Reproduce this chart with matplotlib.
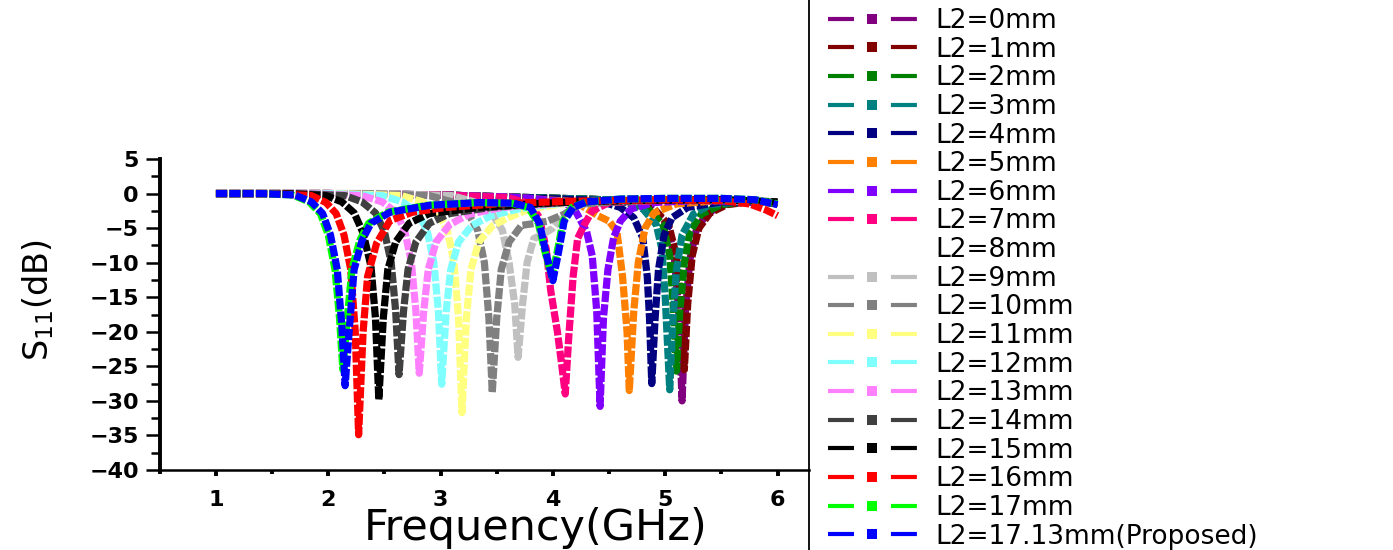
import matplotlib
matplotlib.use("Agg")
import matplotlib.pyplot as plt
from matplotlib.lines import Line2D

plt.rcParams['font.family'] = ['DejaVu Sans']
plt.rcParams['mathtext.default'] = 'regular'
plt.rcParams['lines.scale_dashes'] = False

# S11 traces (frequency in GHz, S11 in dB)
freq_0mm = [1.0, 2.0, 3.0, 3.6, 4.3, 4.6, 4.88, 5.02, 5.08, 5.12, 5.15, 5.18, 5.22, 5.28, 5.38, 5.52, 5.8, 6.0]
s11_0mm = [0, 0, -0.2, -0.5, -0.8, -1.0, -2.2, -4.5, -9, -17, -30, -17, -9.5, -5, -2.8, -1.6, -1.1, -1.4]
freq_1mm = [1.0, 2.0, 3.0, 3.6, 4.3, 4.6, 4.9, 5.03, 5.1, 5.14, 5.17, 5.2, 5.24, 5.3, 5.4, 5.55, 5.8, 6.0]
s11_1mm = [0, 0, -0.2, -0.5, -0.8, -1.0, -2.2, -4.5, -9, -16, -25.5, -16, -9, -5, -2.8, -1.6, -1.1, -1.5]
freq_2mm = [1.0, 2.0, 3.0, 3.6, 4.3, 4.6, 4.85, 4.98, 5.04, 5.07, 5.1, 5.13, 5.17, 5.22, 5.32, 5.5, 5.75, 6.0]
s11_2mm = [0, 0, -0.2, -0.5, -0.8, -1.0, -2.2, -4.5, -9, -16, -25.7, -17, -10, -5.5, -3, -1.6, -1.1, -1.4]
freq_3mm = [1.0, 2.0, 3.0, 3.6, 4.3, 4.6, 4.8, 4.92, 4.97, 5.0, 5.04, 5.07, 5.1, 5.15, 5.25, 5.4, 5.7, 6.0]
s11_3mm = [0, 0, -0.2, -0.5, -0.8, -1.0, -2.2, -4.5, -8, -15, -28.4, -18, -11, -6, -3, -1.6, -1.1, -1.4]
freq_4mm = [1.0, 2.0, 3.0, 3.6, 4.4, 4.6, 4.72, 4.8, 4.84, 4.86, 4.88, 4.91, 4.94, 4.99, 5.06, 5.2, 5.5, 6.0]
s11_4mm = [0, 0, -0.2, -0.5, -1.0, -2.0, -3.5, -6.4, -12, -18, -27.5, -18, -11, -6, -3.5, -2.0, -1.2, -1.3]
freq_5mm = [1.0, 2.0, 3.0, 3.6, 4.2, 4.3, 4.4, 4.5, 4.57, 4.62, 4.66, 4.68, 4.72, 4.76, 4.82, 4.9, 5.1, 5.5, 6.0]
s11_5mm = [0, 0, -0.2, -0.5, -1.2, -2.2, -3.2, -4.0, -5.5, -12, -20, -28.5, -17, -10, -5, -2.8, -1.5, -1.0, -1.3]
freq_6mm = [1.0, 2.0, 3.0, 3.6, 3.8, 4.1, 4.2, 4.3, 4.35, 4.39, 4.42, 4.45, 4.49, 4.54, 4.6, 4.7, 4.9, 5.3, 6.0]
s11_6mm = [0, 0, -0.2, -0.5, -0.7, -1.2, -2.5, -5.5, -9, -17, -30.8, -18, -11, -6.4, -4, -2.2, -1.3, -1.0, -1.3]
freq_7mm = [1.0, 2.0, 3.0, 3.6, 3.8, 3.88, 3.94, 3.98, 4.04, 4.08, 4.11, 4.14, 4.18, 4.22, 4.28, 4.35, 4.5, 5.0, 5.5, 6.0]
s11_7mm = [0, 0, -0.2, -0.6, -1.5, -3.5, -8, -14, -20, -25, -29, -21, -12, -6.5, -4.5, -2.5, -1.3, -1.0, -0.9, -1.3]
freq_8mm = [1.0, 3.0, 3.6, 3.75, 3.83, 3.87, 3.9, 3.93, 3.97, 4.05, 4.2, 4.6, 6.0]
s11_8mm = [0, -0.3, -1, -3, -7, -15, -27, -15, -8, -4, -2, -1.1, -1.3]
freq_9mm = [1.0, 2.5, 3.1, 3.3, 3.45, 3.55, 3.61, 3.66, 3.69, 3.73, 3.77, 3.83, 3.9, 4.0, 4.1, 4.2, 4.4, 4.8, 5.5, 6.0]
s11_9mm = [0, 0, -0.3, -1.2, -2.7, -5.3, -10, -16, -23.7, -16, -10, -6.5, -6.0, -5.0, -3.0, -1.8, -1.2, -1.0, -0.9, -1.3]
freq_10mm = [1.0, 2.3, 2.9, 3.1, 3.24, 3.33, 3.39, 3.43, 3.46, 3.5, 3.54, 3.61, 3.72, 3.85, 3.95, 4.1, 4.25, 4.8, 5.5, 6.0]
s11_10mm = [0, 0, -0.3, -1.2, -2.7, -5.3, -10, -18, -28.8, -18, -11, -7.0, -4.6, -4.3, -4.0, -3.0, -1.5, -1.0, -0.9, -1.3]
freq_11mm = [1.0, 2.1, 2.65, 2.84, 2.97, 3.06, 3.12, 3.16, 3.19, 3.23, 3.27, 3.34, 3.46, 3.6, 3.75, 3.88, 4.2, 4.8, 5.5, 6.0]
s11_11mm = [0, 0, -0.3, -1.2, -2.7, -5.3, -10, -18, -31.7, -18, -11, -7.0, -4.7, -3.5, -2.5, -2.0, -1.2, -1.0, -0.9, -1.3]
freq_12mm = [1.0, 2.0, 2.48, 2.66, 2.79, 2.88, 2.94, 2.98, 3.01, 3.05, 3.09, 3.16, 3.28, 3.45, 3.7, 3.85, 4.2, 4.8, 5.5, 6.0]
s11_12mm = [0, 0, -0.3, -1.2, -2.7, -5.3, -10, -17, -27.6, -17, -11, -7.0, -4.6, -3.2, -2.2, -1.8, -1.2, -1.0, -0.9, -1.3]
freq_13mm = [1.0, 1.8, 2.3, 2.48, 2.6, 2.68, 2.74, 2.78, 2.81, 2.85, 2.89, 2.96, 3.08, 3.25, 3.55, 3.8, 4.2, 4.8, 5.5, 6.0]
s11_13mm = [0, 0, -0.3, -1.2, -2.7, -5.3, -10, -17, -26, -17, -11, -7.0, -4.5, -3.0, -2.0, -1.7, -1.2, -1.0, -0.9, -1.3]
freq_14mm = [1.0, 1.7, 2.15, 2.3, 2.42, 2.5, 2.56, 2.6, 2.63, 2.67, 2.71, 2.78, 2.9, 3.08, 3.45, 3.8, 4.2, 4.8, 5.5, 6.0]
s11_14mm = [0, 0, -0.3, -1.2, -2.8, -5.5, -10, -17, -26.2, -17, -11, -7.0, -4.3, -2.9, -2.0, -1.6, -1.2, -1.0, -0.9, -1.3]
freq_15mm = [1.0, 1.6, 1.98, 2.12, 2.23, 2.31, 2.38, 2.42, 2.45, 2.49, 2.53, 2.6, 2.72, 2.9, 3.35, 3.8, 4.2, 4.8, 5.5, 6.0]
s11_15mm = [0, 0, -0.3, -1.2, -2.8, -5.7, -10.5, -18, -29.8, -18, -11, -7.0, -4.3, -2.9, -2.0, -1.5, -1.2, -1.0, -0.9, -1.2]
freq_16mm = [1.0, 1.5, 1.85, 1.98, 2.07, 2.14, 2.2, 2.24, 2.27, 2.31, 2.35, 2.43, 2.55, 2.75, 3.05, 3.5, 3.8, 4.2, 4.6, 5.0, 5.5, 5.75, 5.9, 6.0]
s11_16mm = [0, 0, -0.3, -1.3, -2.9, -6.0, -11, -20, -34.9, -20, -12, -7.2, -3.9, -2.7, -2.0, -1.5, -1.3, -1.1, -1.0, -0.9, -1.0, -1.5, -2.4, -3.2]
freq_17mm = [1.0, 1.4, 1.68, 1.83, 1.93, 2.0, 2.06, 2.1, 2.13, 2.17, 2.21, 2.28, 2.36, 2.53, 2.88, 3.33, 3.63, 3.78, 3.87, 3.93, 3.99, 4.04, 4.09, 4.17, 4.3, 4.6, 5.0, 5.5, 5.8, 6.0]
s11_17mm = [0, 0, -0.2, -1.2, -2.9, -6.0, -11, -18, -25.5, -18, -11, -6.8, -4.3, -2.7, -1.7, -1.3, -1.4, -2.0, -4.3, -8.5, -12.0, -8.3, -4.0, -2.0, -1.2, -0.8, -0.7, -0.7, -0.9, -1.5]
freq_proposed = [1.0, 1.4, 1.7, 1.85, 1.95, 2.02, 2.08, 2.12, 2.15, 2.19, 2.23, 2.3, 2.38, 2.55, 2.9, 3.35, 3.65, 3.8, 3.88, 3.94, 4.0, 4.05, 4.1, 4.18, 4.3, 4.6, 5.0, 5.5, 5.8, 6.0]
s11_proposed = [0, 0, -0.2, -1.2, -2.9, -6.0, -11, -19, -27.8, -19, -11, -6.8, -4.3, -2.7, -1.7, -1.3, -1.4, -2.0, -4.3, -8.7, -12.6, -8.5, -4.0, -2.0, -1.2, -0.8, -0.7, -0.7, -0.9, -1.6]

labels = ["L2=0mm", "L2=1mm", "L2=2mm", "L2=3mm", "L2=4mm", "L2=5mm", "L2=6mm",
          "L2=7mm", "L2=8mm", "L2=9mm", "L2=10mm", "L2=11mm", "L2=12mm", "L2=13mm",
          "L2=14mm", "L2=15mm", "L2=16mm", "L2=17mm", "L2=17.13mm(Proposed)"]
colors = ["#800080", "#800000", "#008000", "#008080", "#000080", "#FF8000", "#8000FF",
          "#FF0080", "#FFFFFF", "#C0C0C0", "#808080", "#FFFF80", "#80FFFF", "#FF80FF",
          "#404040", "#000000", "#FF0000", "#00FF00", "#0000FF"]
freqs = [freq_0mm, freq_1mm, freq_2mm, freq_3mm, freq_4mm, freq_5mm, freq_6mm, freq_7mm,
         freq_8mm, freq_9mm, freq_10mm, freq_11mm, freq_12mm, freq_13mm, freq_14mm,
         freq_15mm, freq_16mm, freq_17mm, freq_proposed]
s11s = [s11_0mm, s11_1mm, s11_2mm, s11_3mm, s11_4mm, s11_5mm, s11_6mm, s11_7mm,
        s11_8mm, s11_9mm, s11_10mm, s11_11mm, s11_12mm, s11_13mm, s11_14mm,
        s11_15mm, s11_16mm, s11_17mm, s11_proposed]

W, H = 1393, 550
fig = plt.figure(figsize=(W / 100, H / 100), dpi=100)
ax = fig.add_axes([159.8 / W, 80 / H, 649.2 / W, 311 / H])

for i in range(len(labels)):
    z = 1 if colors[i] == "#FFFFFF" else 2 + i
    ax.plot(freqs[i], s11s[i], color=colors[i], lw=5.2, linestyle=(0, (8, 1.6)),
            dash_capstyle='butt', solid_joinstyle='miter', zorder=z)

ax.set_xlim(0.5, 6.28)
ax.set_ylim(-40, 5)
ax.set_xticks([1, 2, 3, 4, 5, 6])
ax.set_xticks([0.5, 1.5, 2.5, 3.5, 4.5, 5.5], minor=True)
ax.set_yticks(range(-40, 6, 5))
ax.set_yticks([-37.5 + 5 * k for k in range(9)], minor=True)

ax.spines['top'].set_visible(False)
ax.spines['right'].set_visible(False)
ax.spines['left'].set_linewidth(2.8)
ax.spines['bottom'].set_linewidth(1.8)
ax.tick_params(axis='x', which='major', direction='out', length=4.5, width=2.8, pad=10)
ax.tick_params(axis='x', which='minor', direction='out', length=3, width=2.8)
ax.tick_params(axis='y', which='major', direction='out', length=10, width=1.8, pad=5)
ax.tick_params(axis='y', which='minor', direction='out', length=6.5, width=1.8)
for lab in ax.get_xticklabels() + ax.get_yticklabels():
    lab.set_fontweight('bold')
    lab.set_fontsize(16)

ax.set_xlabel("Frequency(GHz)", fontsize=31)
ax.xaxis.set_label_coords(0.5795, -0.185)
ax.xaxis.label.set_va('center')
fig.text(38 / W, 1 - 300 / H, "S$_{11}$(dB)", rotation=90, fontsize=24,
         ha='center', va='center')

# legend separator
fig.add_artist(Line2D([809 / W, 809 / W], [0, 1], color='black', lw=1.3))

handles = [Line2D([], [], color=c, lw=3, linestyle=(0, (18.7, 26.6)), marker='s',
                  markersize=7, markeredgewidth=0) for c in colors]
fig.legend(handles, labels, loc='upper left', bbox_to_anchor=(828 / W, 1 - 8 / H),
           frameon=False, fontsize=19, numpoints=1, handlelength=3.37,
           handletextpad=0.68, labelspacing=0.10, borderpad=0, borderaxespad=0)

fig.savefig("out.png", dpi=100)
